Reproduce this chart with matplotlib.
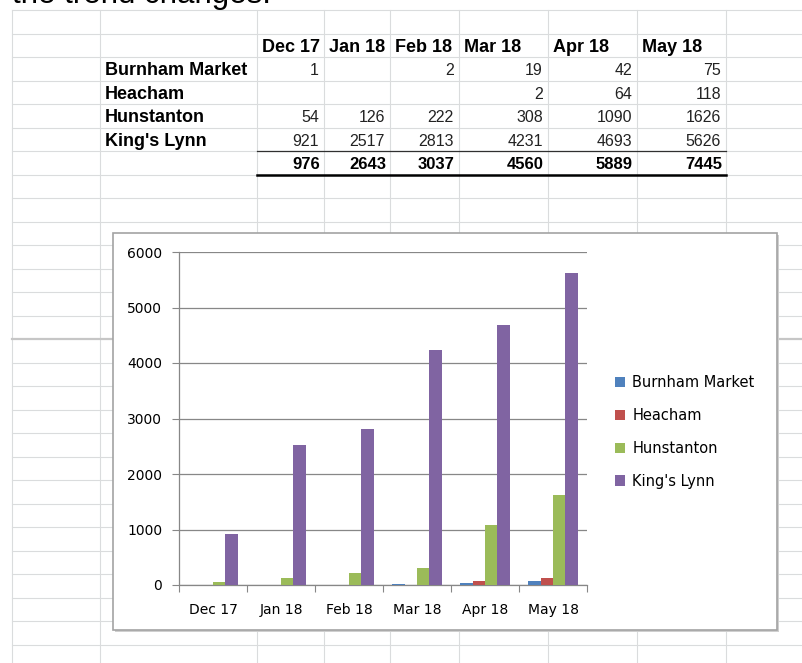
import numpy as np
import matplotlib
matplotlib.use("Agg")
import matplotlib.pyplot as plt
from matplotlib import font_manager
from matplotlib.patches import Rectangle

# table / chart data
months = ["Dec 17", "Jan 18", "Feb 18", "Mar 18", "Apr 18", "May 18"]
towns = ["Burnham Market", "Heacham", "Hunstanton", "King's Lynn"]
burnham = [1, None, 2, 19, 42, 75]
heacham = [None, None, None, 2, 64, 118]
hunstanton = [54, 126, 222, 308, 1090, 1626]
kings_lynn = [921, 2517, 2813, 4231, 4693, 5626]
totals = [976, 2643, 3037, 4560, 5889, 7445]
series = [burnham, heacham, hunstanton, kings_lynn]
colors = ["#4F81BD", "#C0504D", "#9BBB59", "#8064A2"]


def pick(names):
    avail = {f.name for f in font_manager.fontManager.ttflist}
    for n in names:
        if n in avail:
            return n
    return "DejaVu Sans"


sans = pick(["Liberation Sans", "Arial", "DejaVu Sans"])
narrow = pick(["Liberation Sans Narrow", "Arial Narrow"])
num_size = 12
if narrow == "DejaVu Sans":
    narrow = sans
    num_size = 11.5

W, H = 803, 663
fig = plt.figure(figsize=(W / 100, H / 100), dpi=100)

# spreadsheet background drawn in pixel coordinates
bg = fig.add_axes([0, 0, 1, 1])
bg.set_xlim(0, W)
bg.set_ylim(H, 0)
bg.axis("off")

cols = [12, 100, 257, 324, 390, 459, 548, 637, 726]
rows = [10 + 23.5 * k for k in range(28)]
grid_c = "#dadcdd"
for x in cols:
    bg.plot([x, x], [10, H], color=grid_c, lw=0.8)
for k, y in enumerate(rows):
    if k == 14:
        bg.plot([12, W], [y, y], color="#c6c6c6", lw=1.6)
    else:
        bg.plot([12, W], [y, y], color=grid_c, lw=0.8)

# sentence above the sheet, cut off by the screenshot edge
bg.text(12, 3.5, "the trend changes.", fontsize=22.5, family=sans,
        va="baseline", ha="left", color="black")

# table
def center(k):
    return (rows[k] + rows[k + 1]) / 2

for j, m in enumerate(months):
    bg.text(cols[j + 2] + 5, center(1) + 6.5, m, fontsize=13, family=sans,
            weight="bold", va="baseline", ha="left")
for i, t in enumerate(towns):
    bg.text(cols[1] + 5, center(i + 2) + 6.5, t, fontsize=13, family=sans,
            weight="bold", va="baseline", ha="left")
    for j, v in enumerate(series[i]):
        if v is not None:
            bg.text(cols[j + 3] - 5, center(i + 2) + 6.5, str(v),
                    fontsize=num_size, family=narrow, va="baseline",
                    ha="right", color="#222222")
for j, v in enumerate(totals):
    bg.text(cols[j + 3] - 4, center(6) + 6.5, str(v), fontsize=12,
            family=sans, weight="bold", va="baseline", ha="right")
bg.plot([cols[2], cols[8]], [rows[6], rows[6]], color="#303030", lw=0.9)
bg.plot([cols[2], cols[8]], [rows[7], rows[7]], color="black", lw=1.8)

# chart frame with a small shadow
bg.add_patch(Rectangle((115, 235), 664, 397, facecolor="#cfcfcf",
                       edgecolor="none", zorder=3))
bg.add_patch(Rectangle((113, 233), 664, 397, facecolor="white",
                       edgecolor="#a3a3a3", lw=1.2, zorder=4))

# chart
ax = fig.add_axes([179 / W, (H - 585) / H, (587 - 179) / W, (585 - 252) / H])
ax.set_facecolor("none")
x = np.arange(len(months))
w = 1 / 5.5
for i, (s, c) in enumerate(zip(series, colors)):
    vals = [0 if v is None else v for v in s]
    ax.bar(x + (i - 1.5) * w, vals, width=w, color=c, label=towns[i], zorder=3)

ax.set_xlim(-0.5, len(months) - 0.5)
ax.set_ylim(0, 6000)
ax.set_yticks(range(0, 6001, 1000))
ax.set_xticks(np.arange(len(months) + 1) - 0.5)
ax.set_xticklabels([])
ax.set_xticks(x, minor=True)
ax.set_xticklabels(months, minor=True)
ax.tick_params(axis="x", which="major", length=5, direction="out",
               color="#878787")
ax.tick_params(axis="x", which="minor", length=0, pad=13, labelsize=10)
ax.tick_params(axis="y", length=5, direction="out", color="#878787",
               pad=7, labelsize=10)
ax.yaxis.grid(True, color="#878787", lw=0.9)
ax.set_axisbelow(True)
for sp in ["top", "right"]:
    ax.spines[sp].set_visible(False)
for sp in ["left", "bottom"]:
    ax.spines[sp].set_color("#878787")
    ax.spines[sp].set_linewidth(0.9)

ax.legend(loc="center left", bbox_to_anchor=(615 / W, (H - 432) / H),
          bbox_transform=fig.transFigure, frameon=False, borderpad=0,
          borderaxespad=0, handlelength=0.7, handleheight=0.7,
          handletextpad=0.5, labelspacing=1.22, fontsize=10.5)

fig.savefig("out.png", dpi=100)
